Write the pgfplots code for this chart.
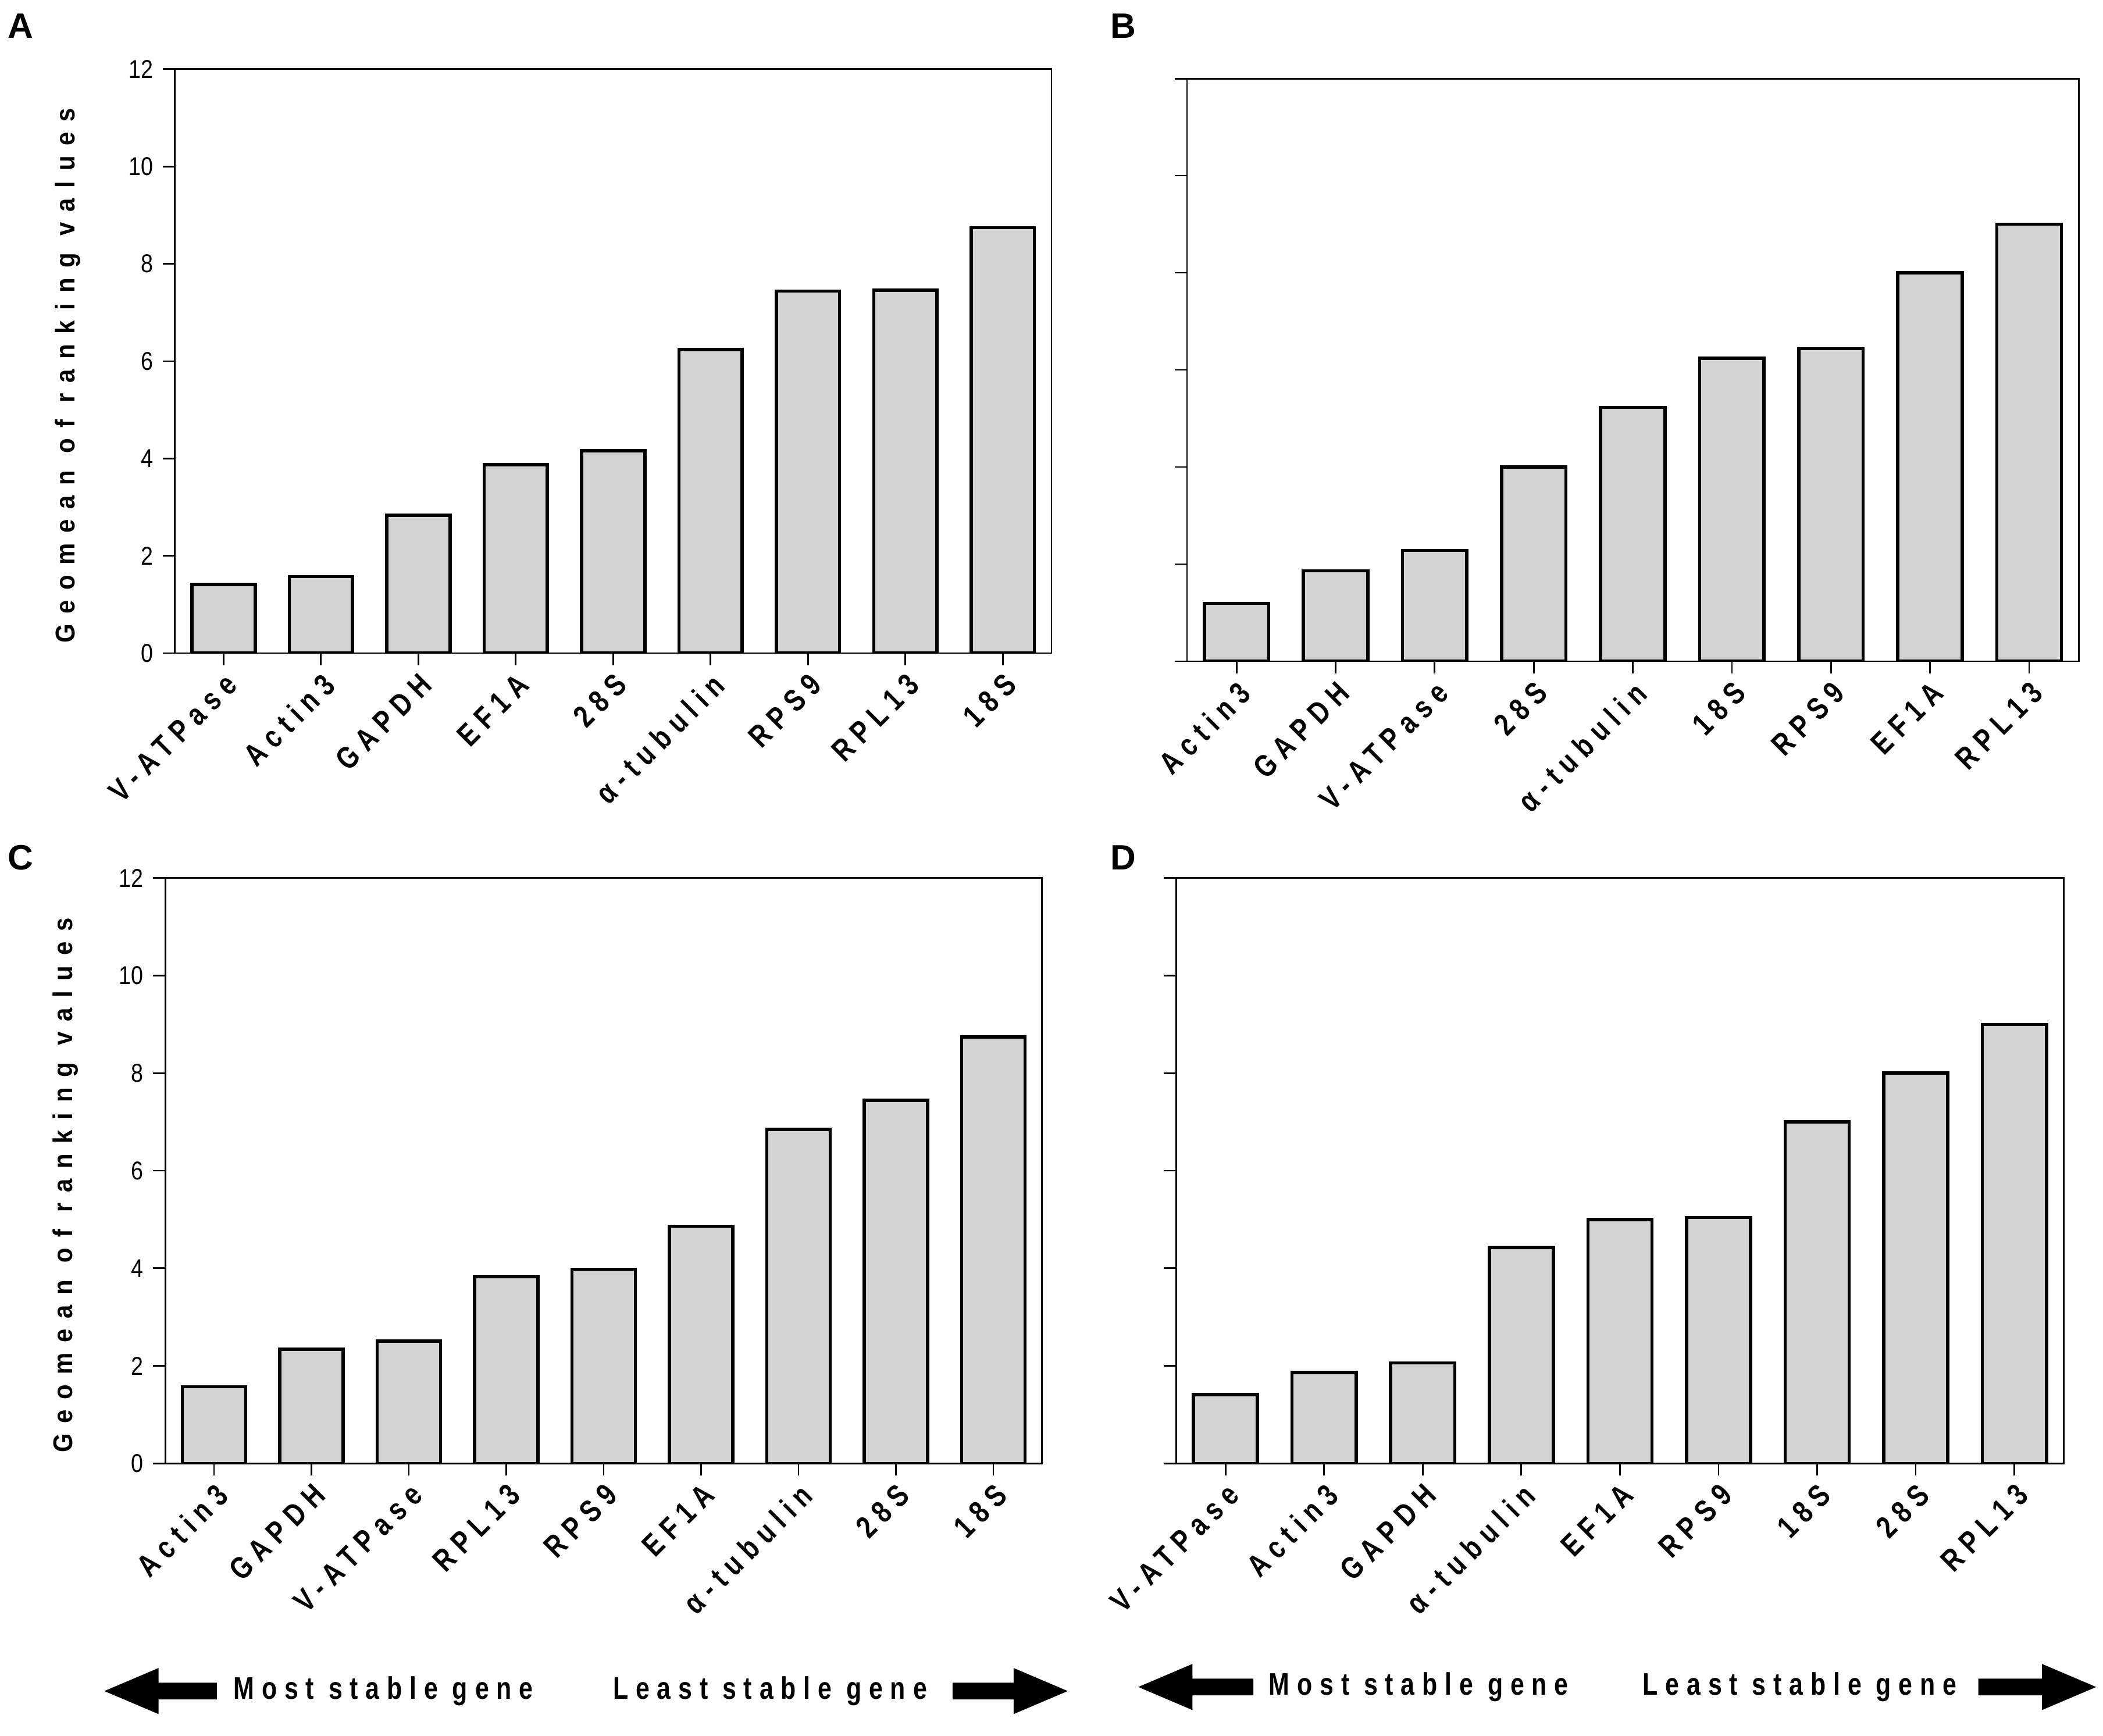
\documentclass[border=0pt]{standalone}
\usepackage{fontspec}
\setmainfont{Liberation Sans}
\newfontfamily\lblfont[LetterSpace=24,FakeStretch=0.8]{Liberation Sans}
\newfontfamily\ylfont[LetterSpace=38,FakeStretch=0.9]{Liberation Sans}
\newfontfamily\numfont[FakeStretch=0.85]{Liberation Sans}
\usepackage{pgfplots}
\pgfplotsset{compat=1.18}
\usetikzlibrary{calc}
\definecolor{barfill}{RGB}{211,211,211}
\pgfplotsset{
 panel/.style={
  scale only axis, ybar, bar width=0.65, bar shift=0pt,
  xmin=-0.5, xmax=8.5, ymin=0, ymax=12, ytick={0,2,...,12},
  xtick={0,...,8}, xtick pos=bottom, ytick pos=left, tick align=outside,
  major tick length=4.5pt,
  axis line style={line width=0.6pt},
  tick style={black, line width=0.6pt},
  xticklabel style={rotate=45, anchor=north east, font=\lblfont\bfseries\fontsize{11.5}{12}\selectfont, inner sep=1.5pt},
  yticklabel style={font=\numfont\fontsize{9.5}{11}\selectfont},
  /pgf/number format/assume math mode=true,
  ylabel style={font=\ylfont\bfseries\fontsize{10}{12}\selectfont},
 },
 barstyle/.style={fill=barfill, draw=black, line width=1.2pt},
}
\newcommand{\leftarr}[3]{% tip x, tail x, y
 \fill (#1,#3) -- ($(#1,#3)+(20pt,8.5pt)$) -- ($(#1,#3)+(20pt,3.1pt)$) -- (#2,#3+3.1pt) -- (#2,#3-3.1pt) -- ($(#1,#3)+(20pt,-3.1pt)$) -- ($(#1,#3)+(20pt,-8.5pt)$) -- cycle;}
\newcommand{\rightarr}[3]{% tail x, tip x, y
 \fill (#2,#3) -- ($(#2,#3)+(-20pt,8.5pt)$) -- ($(#2,#3)+(-20pt,3.1pt)$) -- (#1,#3+3.1pt) -- (#1,#3-3.1pt) -- ($(#2,#3)+(-20pt,-3.1pt)$) -- ($(#2,#3)+(-20pt,-8.5pt)$) -- cycle;}
\begin{document}
\begin{tikzpicture}
\path[use as bounding box] (0,0) rectangle (776pt,640.5pt);
% Panel A
\begin{axis}[panel, at={(64.5pt,399.5pt)}, anchor=south west, width=323.5pt, height=215.5pt,
  xticklabels={V-ATPase,Actin3,GAPDH,EF1A,28S,α-tubulin,RPS9,RPL13,18S},
  ylabel={Geomean of ranking values},
  ylabel style={at={(axis description cs:-0.122,0.475)}, anchor=center}]
\addplot[barstyle] coordinates {(0,1.41) (1,1.57) (2,2.83) (3,3.87) (4,4.16) (5,6.24) (6,7.44) (7,7.46) (8,8.74)};
\end{axis}
% Panel B
\begin{axis}[panel, at={(438pt,396.5pt)}, anchor=south west, width=329pt, height=215pt,
  xticklabels={Actin3,GAPDH,V-ATPase,28S,α-tubulin,18S,RPS9,EF1A,RPL13},
  yticklabels={}]
\addplot[barstyle] coordinates {(0,1.19) (1,1.86) (2,2.28) (3,4.00) (4,5.23) (5,6.24) (6,6.44) (7,8.00) (8,9.00)};
\end{axis}
% Panel C
\begin{axis}[panel, at={(61pt,100.5pt)}, anchor=south west, width=323.5pt, height=216pt,
  xticklabels={Actin3,GAPDH,V-ATPase,RPL13,RPS9,EF1A,α-tubulin,28S,18S},
  ylabel={Geomean of ranking values},
  ylabel style={at={(axis description cs:-0.114,0.475)}, anchor=center}]
\addplot[barstyle] coordinates {(0,1.57) (1,2.34) (2,2.51) (3,3.83) (4,3.98) (5,4.86) (6,6.85) (7,7.44) (8,8.74)};
\end{axis}
% Panel D
\begin{axis}[panel, at={(434pt,100.5pt)}, anchor=south west, width=327.5pt, height=216pt,
  xticklabels={V-ATPase,Actin3,GAPDH,α-tubulin,EF1A,RPS9,18S,28S,RPL13},
  yticklabels={}]
\addplot[barstyle] coordinates {(0,1.41) (1,1.86) (2,2.06) (3,4.43) (4,5.00) (5,5.04) (6,7.00) (7,8.00) (8,9.00)};
\end{axis}
% panel letters
\node[font=\bfseries\fontsize{13}{14}\selectfont] at (7.5pt,631pt) {A};
\node[font=\bfseries\fontsize{13}{14}\selectfont] at (414.5pt,631pt) {B};
\node[font=\bfseries\fontsize{13}{14}\selectfont] at (7.5pt,324pt) {C};
\node[font=\bfseries\fontsize{13}{14}\selectfont] at (414.5pt,324pt) {D};
% arrows C
\leftarr{38.5pt}{80pt}{16.5pt}
\rightarr{351.5pt}{394pt}{16.5pt}
\node[anchor=west, inner sep=0pt, font=\lblfont\bfseries\fontsize{11.5}{12}\selectfont] at (86pt,16.5pt) {Most stable gene};
\node[anchor=west, inner sep=0pt, font=\lblfont\bfseries\fontsize{11.5}{12}\selectfont] at (226pt,16.5pt) {Least stable gene};
% arrows D
\leftarr{420pt}{462.5pt}{18pt}
\rightarr{730pt}{773.5pt}{18pt}
\node[anchor=west, inner sep=0pt, font=\lblfont\bfseries\fontsize{11.5}{12}\selectfont] at (468pt,18pt) {Most stable gene};
\node[anchor=west, inner sep=0pt, font=\lblfont\bfseries\fontsize{11.5}{12}\selectfont] at (606pt,18pt) {Least stable gene};
\end{tikzpicture}
\end{document}
